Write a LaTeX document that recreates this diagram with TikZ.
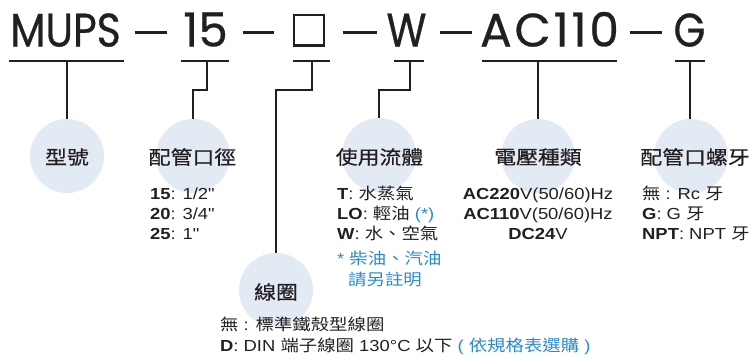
\documentclass[tikz,border=0pt]{standalone}
\usepackage{fontspec}
\setmainfont{Liberation Sans}[FakeStretch=1.15, Ligatures=TeXOff]
\newfontfamily\cjk{Noto Sans CJK TC}[FakeStretch=1.15]
\newfontfamily\cjklab{Noto Sans CJK TC}[FakeStretch=1.15, FakeBold=0.5]
\newfontfamily\titlefont{Poppins}[FakeStretch=0.87, FakeBold=0.6]
\newfontfamily\titlefontw{Poppins}[FakeStretch=1.0, FakeBold=0.6]
\newfontfamily\titlefontws{Poppins}[FakeStretch=1.0, FakeBold=0.6, LetterSpace=6]
\newcommand\zh[1]{{\cjk #1}}
\definecolor{ink}{HTML}{231F20}
\definecolor{bubble}{HTML}{E2EAF4}
\definecolor{note}{HTML}{2A8BC6}
\tikzset{
  ttl/.style={font=\titlefont\fontsize{47}{47}\selectfont, text=ink, inner sep=0pt, anchor=base},
  ttlw/.style={ttl, font=\titlefontw\fontsize{47}{47}\selectfont},
  ttlws/.style={ttl, font=\titlefontws\fontsize{47}{47}\selectfont},
  bub/.style={circle, fill=bubble, minimum size=74pt, inner sep=0pt},
  lab/.style={font=\cjklab\fontsize{19}{19}\selectfont, text=ink, inner sep=0pt},
  item/.style={font=\fontsize{16}{20}\selectfont, text=ink, inner sep=0pt, anchor=base west},
  citem/.style={item, anchor=base},
  conn/.style={draw=ink, line width=1.2pt},
  dashln/.style={draw=ink, line width=3pt},
}
\begin{document}
\begin{tikzpicture}[x=1pt,y=-1pt]
\useasboundingbox (0,0) rectangle (750,356);
% title
\node[ttl] (tm) at (65.5,46.5) {MUPS};
\node[ttlw] (t15) at (205.5,46.5) {15};
\node[draw=ink, line width=2.4pt, minimum width=30pt, minimum height=30.3pt, inner sep=0pt] (tbox) at (308.8,30.3) {};
\node[ttl] (tw) at (406.5,46.5) {W};
\node[ttlws] (tac) at (549.5,46.5) {AC110};
\node[ttl] (tg) at (689.5,46.5) {G};
\draw[dashln] (135,32) -- (167,32);
\draw[dashln] (243,32) -- (274,32);
\draw[dashln] (343,32) -- (377,32);
\draw[dashln] (440,32) -- (472,32);
\draw[dashln] (630,32) -- (662,32);
% underlines
\draw[conn] (9,61) -- (124,61);
\draw[conn] (181,61) -- (229,61);
\draw[conn] (293,61) -- (330,61);
\draw[conn] (394,61) -- (424,61);
\draw[conn] (482,61) -- (617,61);
\draw[conn] (675,61) -- (705,61);
\coordinate (u1) at (67,61);
\coordinate (u2) at (207,61);
\coordinate (u3) at (312,61);
\coordinate (u4) at (410,61);
\coordinate (u5) at (538,61);
\coordinate (u6) at (690,61);
% bubbles
\node[bub] (c1) at (67,156) {};
\node[bub] (c2) at (193,156) {};
\node[bub] (c4) at (379,155) {};
\node[bub] (c5) at (538,156) {};
\node[bub] (c6) at (691,156) {};
\node[bub] (c3) at (276,290) {};
% connectors
\draw[conn] (u1) -- (c1.north);
\draw[conn] (u2) -- ++(0,29) -| (c2.north);
\draw[conn] (u3) -- ++(0,29) -| (c3.north);
\draw[conn] (u4) -- ++(0,29) -| (c4.north);
\draw[conn] (u5) -- (c5.north);
\draw[conn] (u6) -- (690,119);
% labels
\node[lab] (l1) at (67,157) {型號};
\node[lab] (l2) at (192.5,157) {配管口徑};
\node[lab] (l4) at (379.5,157) {使用流體};
\node[lab] (l5) at (538,157) {電壓種類};
\node[lab] (l6) at (695,157) {配管口螺牙};
\node[lab] (l3) at (276,292) {線圈};
% lists
\node[item] (a1) at (150,199) {\textbf{15}: 1/2"};
\node[item] (a2) at (150,219) {\textbf{20}: 3/4"};
\node[item] (a3) at (150,239) {\textbf{25}: 1"};
\node[item] (b1) at (337,199) {\textbf{T}: \zh{水蒸氣}};
\node[item] (b2) at (337,219) {\textbf{LO}: \zh{輕油} \textcolor{note}{(*)}};
\node[item] (b3) at (337,239) {\textbf{W}: \zh{水、空氣}};
\node[item, text=note] (b4) at (337,264) {* \zh{柴油、汽油}};
\node[item, text=note] (b5) at (348,285) {\zh{請另註明}};
\node[citem] (v1) at (538,199) {\textbf{AC220}V(50/60)Hz};
\node[citem] (v2) at (538,219) {\textbf{AC110}V(50/60)Hz};
\node[citem] (v3) at (538,239) {\textbf{DC24}V};
\node[item] (g1) at (642,199) {\zh{無} : Rc \zh{牙}};
\node[item] (g2) at (642,219) {\textbf{G}: G \zh{牙}};
\node[item] (g3) at (642,239) {\textbf{NPT}: NPT \zh{牙}};
\node[item] (d1) at (220,330) {\zh{無} : \zh{標準鐵殼型線圈}};
\node[item] (d2) at (220,351) {\textbf{D}: DIN \zh{端子線圈} 130°C \zh{以下} \textcolor{note}{( \zh{依規格表選購} )}};
\end{tikzpicture}
\end{document}
